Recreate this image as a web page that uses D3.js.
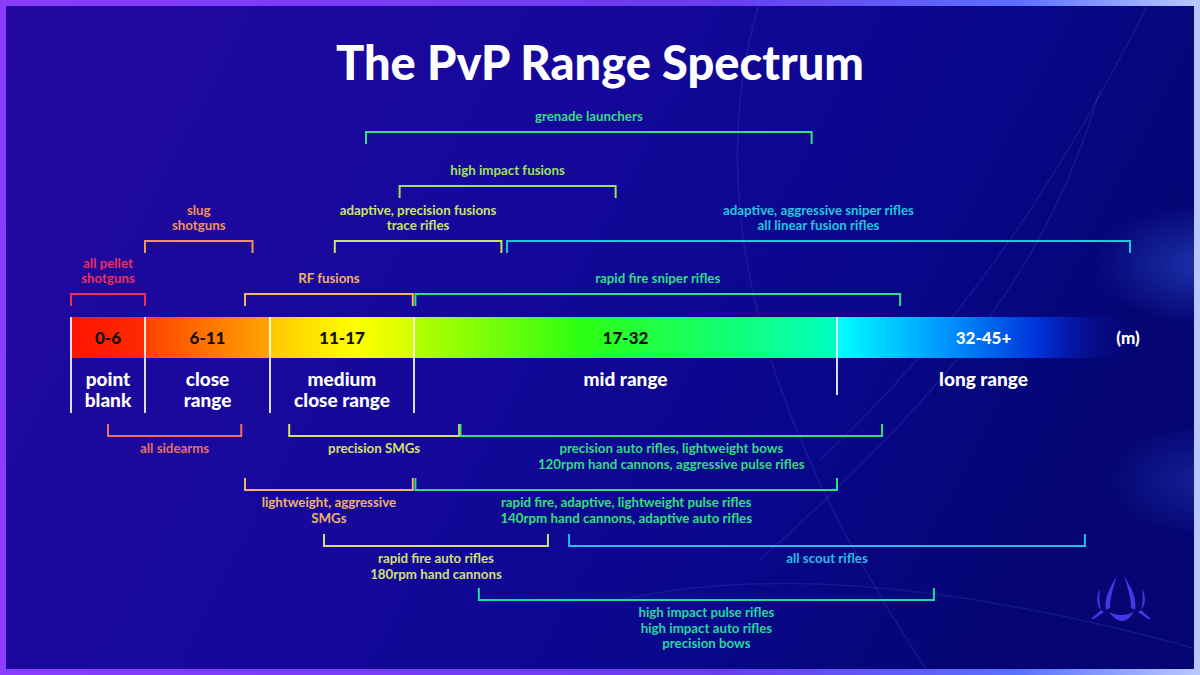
<!DOCTYPE html>
<html>
<head>
<meta charset="utf-8">
<script src="https://cdn.jsdelivr.net/npm/d3@7"></script>
<style>
  html, body { margin: 0; padding: 0; background: #14089a; }
  svg { display: block; }
</style>
</head>
<body>
<svg id="chart" width="1200" height="675"></svg>
<script>
//======
// Data
//======

// range zones along the spectrum (metres)
const zoneBreaks = [0, 6, 11, 17, 32, 45];
const zoneRanges = ["0-6", "6-11", "11-17", "17-32", "32-45+"];
const zoneNames = [["point", "blank"], ["close", "range"], ["medium", "close range"], ["mid range"], ["long range"]];

// weapon brackets: label lines, start / end range (m), tier (negative = above bar)
const weaponLabels = [
  ["grenade launchers"],
  ["high impact fusions"],
  ["adaptive, precision fusions", "trace rifles"],
  ["adaptive, aggressive sniper rifles", "all linear fusion rifles"],
  ["slug", "shotguns"],
  ["all pellet", "shotguns"],
  ["RF fusions"],
  ["rapid fire sniper rifles"],
  ["all sidearms"],
  ["precision SMGs"],
  ["precision auto rifles, lightweight bows", "120rpm hand cannons, aggressive pulse rifles"],
  ["lightweight, aggressive", "SMGs"],
  ["rapid fire, adaptive, lightweight pulse rifles", "140rpm hand cannons, adaptive auto rifles"],
  ["rapid fire auto rifles", "180rpm hand cannons"],
  ["all scout rifles"],
  ["high impact pulse rifles", "high impact auto rifles", "precision bows"]
];
const weaponFrom = [15, 16.4, 13.7, 20.3, 6, 0, 10, 17.05, 3, 11.8, 18.65, 10, 17.05, 13.25, 22.5, 19.3];
const weaponTo   = [31.1, 24.15, 20.1, 45, 10.3, 6, 16.95, 34.8, 9.85, 18.6, 34, 16.95, 32, 21.75, 43, 36.3];
const weaponTier = [-4, -3, -2, -2, -2, -1, -1, -1, 1, 1, 1, 2, 2, 3, 3, 4];
const weaponColors = [
  "#35de86", "#9fe15c", "#c8e36a", "#22c6dc", "#f2935c", "#ec2f5a", "#f3b25e", "#2fdf86",
  "#ee6f62", "#d6e263", "#2fdf7a", "#f0b263", "#2fe07a", "#d3e070", "#27bde6", "#22d9a0"
];

//=========
// Drawing
//=========

const svg = d3.select("#chart");
const W = 1200, H = 675;
const defs = svg.append("defs");

// piecewise metre -> pixel scale
const x = d3.scaleLinear().domain(zoneBreaks).range([71, 145, 270, 414, 837, 1130]);

const tierY = d3.scaleOrdinal()
  .domain([-4, -3, -2, -1, 1, 2, 3, 4])
  .range([132, 186, 241, 294, 436, 490, 546, 600]);

// background
const bg = defs.append("linearGradient").attr("id", "bg").attr("x1", 0).attr("x2", 1).attr("y1", 0).attr("y2", 0.3);
bg.append("stop").attr("offset", 0).attr("stop-color", "#24099e");
bg.append("stop").attr("offset", 0.45).attr("stop-color", "#16089c");
bg.append("stop").attr("offset", 0.8).attr("stop-color", "#08078a");
bg.append("stop").attr("offset", 1).attr("stop-color", "#050674");
svg.append("rect").attr("width", W).attr("height", H).attr("fill", "url(#bg)");

const glow = defs.append("radialGradient").attr("id", "glow");
glow.append("stop").attr("offset", 0).attr("stop-color", "#3f74ff").attr("stop-opacity", 0.4);
glow.append("stop").attr("offset", 1).attr("stop-color", "#3f74ff").attr("stop-opacity", 0);
svg.append("ellipse").attr("cx", 1205).attr("cy", 265).attr("rx", 110).attr("ry", 60).attr("fill", "url(#glow)");
svg.append("ellipse").attr("cx", 1200).attr("cy", 480).attr("rx", 90).attr("ry", 55).attr("fill", "url(#glow)").attr("opacity", 0.6);

// faint decorative swooshes
const deco = svg.append("g").attr("fill", "none").attr("stroke", "#7f8cff").attr("stroke-opacity", 0.13).attr("stroke-width", 1.5);
deco.append("path").attr("d", "M 760 0 C 700 200 760 420 930 675");
deco.append("path").attr("d", "M 1150 0 C 1060 180 960 330 820 460");
deco.append("path").attr("d", "M 620 600 C 800 560 1020 600 1200 650");
deco.append("path").attr("d", "M 1100 90 C 1050 260 960 380 760 560");

// frame
const frame = defs.append("linearGradient").attr("id", "frame").attr("x1", 0).attr("x2", 1);
frame.append("stop").attr("offset", 0).attr("stop-color", "#8a3cff");
frame.append("stop").attr("offset", 0.6).attr("stop-color", "#6a3cf0");
frame.append("stop").attr("offset", 0.85).attr("stop-color", "#5a70ff");
frame.append("stop").attr("offset", 1).attr("stop-color", "#b8c8ff");
svg.append("rect").attr("x", 3).attr("y", 3).attr("width", W - 6).attr("height", H - 6)
  .attr("fill", "none").attr("stroke", "url(#frame)").attr("stroke-width", 6);

// title
svg.append("text")
  .attr("x", 600).attr("y", 80)
  .attr("text-anchor", "middle")
  .attr("font-family", "Lato, sans-serif").attr("font-weight", 900).attr("font-size", 47)
  .attr("fill", "#ffffff")
  .text("The PvP Range Spectrum");

// spectrum bar
const barTop = 317, barH = 41;
const spec = defs.append("linearGradient").attr("id", "spec").attr("gradientUnits", "userSpaceOnUse")
  .attr("x1", x(0)).attr("x2", x(45)).attr("y1", 0).attr("y2", 0);
const specStops = [
  [0, "#ff1400", 1], [6, "#ff2a00", 1], [6, "#ff4200", 1], [11, "#ffa600", 1],
  [11, "#ffc800", 1], [14.5, "#ffff00", 1], [17, "#d4ff00", 1], [17, "#b4ff00", 1],
  [23, "#2cff12", 1], [32, "#00ffc0", 1], [32, "#00ffff", 1], [37, "#0090ff", 1],
  [41, "#0030d8", 1], [45, "#08078a", 0]
];
specStops.forEach(s => {
  spec.append("stop")
    .attr("offset", (x(s[0]) - x(0)) / (x(45) - x(0)))
    .attr("stop-color", s[1]).attr("stop-opacity", s[2]);
});
svg.append("rect").attr("x", x(0)).attr("y", barTop).attr("width", x(45) - x(0)).attr("height", barH)
  .attr("fill", "url(#spec)");

// zone dividers
const dividerEnds = [413, 413, 413, 413, 395];
svg.append("g").selectAll("line")
  .data(zoneBreaks.slice(0, 5))
  .enter().append("line")
  .attr("x1", d => x(d)).attr("x2", d => x(d))
  .attr("y1", barTop).attr("y2", (d, i) => dividerEnds[i])
  .attr("stroke", "#ffffff").attr("stroke-opacity", 0.85).attr("stroke-width", 2);

// zone range text in bar
const zones = svg.append("g").attr("font-family", "Lato, sans-serif").attr("font-weight", 900).attr("text-anchor", "middle");
zones.selectAll(".rng")
  .data(zoneRanges)
  .enter().append("text")
  .attr("class", "rng")
  .attr("x", (d, i) => (x(zoneBreaks[i]) + x(zoneBreaks[i + 1])) / 2)
  .attr("y", barTop + barH / 2)
  .attr("dy", "0.36em")
  .attr("font-size", 17)
  .attr("fill", (d, i) => i === 4 ? "#ffffff" : "#111111")
  .text(d => d);

zones.append("text")
  .attr("x", 1128).attr("y", barTop + barH / 2).attr("dy", "0.36em")
  .attr("font-size", 17).attr("fill", "#ffffff")
  .text("(m)");

// zone names below bar
zoneNames.forEach((lines, i) => {
  const cx = (x(zoneBreaks[i]) + x(zoneBreaks[i + 1])) / 2;
  lines.forEach((ln, j) => {
    zones.append("text")
      .attr("x", cx).attr("y", 379 + j * 21).attr("dy", "0.36em")
      .attr("font-size", 19).attr("fill", "#ffffff")
      .text(ln);
  });
});

// weapon brackets
const tick = 12, lineGap = 15.5;
const brackets = svg.append("g").selectAll("g")
  .data(weaponLabels.map((l, i) => ({
    lines: l, from: weaponFrom[i], to: weaponTo[i], tier: weaponTier[i], color: weaponColors[i]
  })))
  .enter().append("g");

brackets.append("path")
  .attr("fill", "none")
  .attr("stroke", d => d.color)
  .attr("stroke-width", 2)
  .attr("d", d => {
    const y = tierY(d.tier);
    const t = d.tier < 0 ? tick : -tick;
    return "M" + x(d.from) + "," + (y + t) + "V" + y + "H" + x(d.to) + "V" + (y + t);
  });

brackets.each(function (d) {
  const g = d3.select(this);
  const cx = (x(d.from) + x(d.to)) / 2;
  const y = tierY(d.tier);
  const n = d.lines.length;
  d.lines.forEach((ln, j) => {
    const cy = d.tier < 0 ? y - 15.5 - (n - 1 - j) * lineGap : y + 12.5 + j * lineGap;
    g.append("text")
      .attr("x", cx).attr("y", cy).attr("dy", "0.36em")
      .attr("text-anchor", "middle")
      .attr("font-family", "Lato, sans-serif").attr("font-weight", 700).attr("font-size", 13.3)
      .attr("fill", d.color)
      .text(ln);
  });
});

// logo
const logo = svg.append("g").attr("fill", "#4b3cf2").attr("opacity", 0.9);
logo.append("path").attr("d", "M1117,576 C1108,590 1104,600 1106,610 L1110,608 C1110,598 1113,588 1117,576 Z");
logo.append("path").attr("d", "M1124,576 C1133,590 1137,600 1135,610 L1131,608 C1131,598 1128,588 1124,576 Z");
logo.append("path").attr("d", "M1100,589 C1096,596 1096,604 1101,610 C1099,603 1099,596 1100,589 Z");
logo.append("path").attr("d", "M1142,589 C1146,596 1146,604 1141,610 C1143,603 1143,596 1142,589 Z");
logo.append("path").attr("d", "M1109,612 C1118,624 1126,624 1134,612 C1124,616 1118,616 1109,612 Z");
logo.append("path").attr("d", "M1101,610 L1091,619 L1094,619 L1104,612 Z M1141,610 L1151,619 L1148,619 L1138,612 Z");
</script>
</body>
</html>
